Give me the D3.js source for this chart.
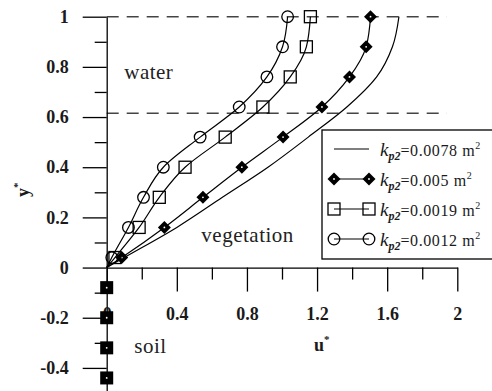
<!DOCTYPE html>
<html>
<head>
<meta charset="utf-8">
<script src="https://cdn.jsdelivr.net/npm/d3@7"></script>
<style>
  body { margin: 0; background: #fff; }
  svg { display: block; font-family: "Liberation Serif", "Times New Roman", serif; }
  .tick text { font-size: 18px; font-weight: bold; fill: #1a1a1a; }
</style>
</head>
<body>
<svg id="chart" width="492" height="391"></svg>
<script>
// y* levels where the profiles were sampled (first one is the origin, no marker)
const yLevels = [0, 0.04, 0.16, 0.28, 0.40, 0.52, 0.64, 0.76, 0.88, 1.0];

// u* for each permeability
const u0078 = [0, 0.10, 0.40, 0.66, 0.92, 1.15, 1.37, 1.54, 1.63, 1.667];
const u005  = [0, 0.086, 0.329, 0.549, 0.771, 1.006, 1.228, 1.385, 1.48, 1.505];
const u0019 = [0, 0.047, 0.185, 0.30, 0.447, 0.676, 0.891, 1.047, 1.139, 1.162];
const u0012 = [0, 0.029, 0.124, 0.21, 0.323, 0.533, 0.756, 0.914, 1.003, 1.032];

// soil points (u* = 0)
const soilY = [-0.08, -0.20, -0.32, -0.44];

// layer boundaries
const dashLevels = [1, 0.615];

const seriesNames = ['0.0078', '0.005', '0.0019', '0.0012'];
const seriesMarks = ['none', 'diamond', 'square', 'circle'];

const xMajor = [0, 0.4, 0.8, 1.2, 1.6, 2];
const xMinor = [0.2, 0.6, 1.0, 1.4, 1.8];
const yMajor = [1, 0.8, 0.6, 0.4, 0.2, 0, -0.2, -0.4];
const yMinor = [0.9, 0.7, 0.5, 0.3, 0.1, -0.1, -0.3, -0.5];

const svg = d3.select('#chart');

const x = d3.scaleLinear().domain([0, 2]).range([106.7, 457.3]);
const y = d3.scaleLinear().domain([-0.5, 1]).range([393, 16.7]);

/**
 * dashed layer lines
 */
svg.append('g')
  .selectAll('line')
  .data(dashLevels)
  .join('line')
  .attr('x1', x(0))
  .attr('x2', x(1.94))
  .attr('y1', d => y(d))
  .attr('y2', d => y(d))
  .attr('stroke', '#444')
  .attr('stroke-width', 1.4)
  .attr('stroke-dasharray', '12,8');

/**
 * axes
 */
const fmt = d => String(d).replace('\u2212', '-');
const serif = '"Liberation Serif", "Times New Roman", serif';

function styleAxis(g) {
  g.attr('font-family', serif);
  g.selectAll('path, line').attr('stroke', '#000').attr('stroke-width', 1.3);
}

svg.append('g')
  .attr('transform', `translate(${x(0)},0)`)
  .call(d3.axisLeft(y).tickValues(yMinor).tickSize(12).tickSizeOuter(0).tickFormat(''))
  .call(g => g.select('.domain').remove())
  .call(styleAxis);

svg.append('g')
  .attr('transform', `translate(${x(0)},0)`)
  .call(d3.axisLeft(y).tickValues(yMajor).tickSize(24).tickSizeOuter(0).tickPadding(14).tickFormat(fmt))
  .call(styleAxis);

svg.append('g')
  .attr('transform', `translate(0,${y(0)})`)
  .call(d3.axisBottom(x).tickValues(xMinor).tickSize(12).tickSizeOuter(0).tickFormat(''))
  .call(g => g.select('.domain').remove())
  .call(styleAxis);

svg.append('g')
  .attr('transform', `translate(0,${y(0)})`)
  .call(d3.axisBottom(x).tickValues(xMajor).tickSize(24).tickSizeOuter(0).tickPadding(16).tickFormat(fmt))
  .call(styleAxis);

// axis titles
svg.append('text')
  .attr('x', 314)
  .attr('y', 351)
  .attr('font-size', 18)
  .attr('font-weight', 'bold')
  .attr('fill', '#1a1a1a')
  .text('u')
  .append('tspan')
  .attr('font-size', 11)
  .attr('dy', -8)
  .text('*');

svg.append('text')
  .attr('transform', 'translate(29,197) rotate(-90)')
  .attr('font-size', 18)
  .attr('font-weight', 'bold')
  .attr('fill', '#1a1a1a')
  .text('y')
  .append('tspan')
  .attr('font-size', 11)
  .attr('dy', -8)
  .text('*');

// region labels
const regions = [
  { t: 'water', u: 0.1, v: 0.75 },
  { t: 'vegetation', u: 0.54, v: 0.10 },
  { t: 'soil', u: 0.157, v: -0.34 }
];
svg.append('g')
  .selectAll('text')
  .data(regions)
  .join('text')
  .attr('x', d => x(d.u))
  .attr('y', d => y(d.v))
  .attr('font-size', 21)
  .attr('letter-spacing', 0.5)
  .attr('fill', '#222')
  .text(d => d.t);

/**
 * profiles
 */
const series = [u0078, u005, u0019, u0012].map(function (vals, i) {
  return {
    name: seriesNames[i],
    mark: seriesMarks[i],
    points: vals.map((u, j) => ({ u: u, v: yLevels[j] }))
  };
});

const drawLine = d3.line()
  .x(d => x(d.u))
  .y(d => y(d.v))
  .curve(d3.curveMonotoneY);

svg.append('g')
  .selectAll('path')
  .data(series)
  .join('path')
  .attr('d', d => drawLine(d.points))
  .attr('fill', 'none')
  .attr('stroke', '#000')
  .attr('stroke-width', 1.2);

function drawMarker(sel, mark) {
  if (mark === 'diamond') {
    sel.append('path')
      .attr('d', 'M0,-6.5L6.5,0L0,6.5L-6.5,0Z')
      .attr('fill', '#000');
    sel.append('circle')
      .attr('r', 0.9)
      .attr('fill', '#fff');
  } else if (mark === 'square') {
    sel.append('rect')
      .attr('x', -6).attr('y', -6)
      .attr('width', 12).attr('height', 12)
      .attr('fill', 'none')
      .attr('stroke', '#000')
      .attr('stroke-width', 1.3);
  } else if (mark === 'circle') {
    sel.append('circle')
      .attr('r', 5.8)
      .attr('fill', 'none')
      .attr('stroke', '#000')
      .attr('stroke-width', 1.3);
  }
}

series.forEach(function (s) {
  if (s.mark === 'none') return;
  var g = svg.append('g')
    .selectAll('g')
    .data(s.points.slice(1))
    .join('g')
    .attr('transform', d => `translate(${x(d.u)},${y(d.v)})`);
  drawMarker(g, s.mark);
});

// soil markers
var soil = svg.append('g')
  .selectAll('g')
  .data(soilY)
  .join('g')
  .attr('transform', d => `translate(${x(0)},${y(d)})`);
soil.append('rect')
  .attr('x', -6.5).attr('y', -6.5)
  .attr('width', 13).attr('height', 13)
  .attr('fill', '#000');
soil.append('circle')
  .attr('r', 0.9)
  .attr('fill', '#fff');

/**
 * legend
 */
const legend = svg.append('g').attr('transform', 'translate(322,130)');

legend.append('rect')
  .attr('width', 190)
  .attr('height', 129)
  .attr('fill', '#fff')
  .attr('stroke', '#000')
  .attr('stroke-width', 1.3);

const rows = legend.selectAll('g.row')
  .data(series)
  .join('g')
  .attr('class', 'row')
  .attr('transform', (d, i) => `translate(0,${19 + i * 30})`);

rows.append('line')
  .attr('x1', 12).attr('x2', 47)
  .attr('stroke', '#000')
  .attr('stroke-width', 1.2);

rows.each(function (d) {
  var row = d3.select(this);
  [12, 47].forEach(function (px) {
    var m = row.append('g').attr('transform', `translate(${px},0)`);
    drawMarker(m, d.mark);
  });
});

const label = rows.append('text')
  .attr('x', 58)
  .attr('y', 7)
  .attr('fill', '#1a1a1a');
label.append('tspan')
  .attr('font-size', 19)
  .attr('font-style', 'italic')
  .text('k');
label.append('tspan')
  .attr('font-size', 12)
  .attr('font-style', 'italic')
  .attr('font-weight', 'bold')
  .attr('dy', 4)
  .text('p2');
label.append('tspan')
  .attr('font-size', 16)
  .attr('letter-spacing', 0.6)
  .attr('dy', -4)
  .text(d => '=' + d.name + ' m');
label.append('tspan')
  .attr('font-size', 10)
  .attr('dy', -7)
  .text('2');
</script>
</body>
</html>
